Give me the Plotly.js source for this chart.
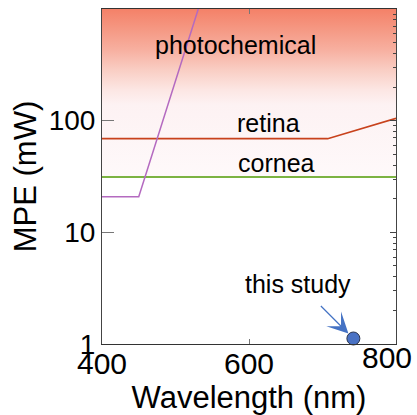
<!DOCTYPE html>
<html>
<head>
<meta charset="utf-8">
<script src="https://cdn.plot.ly/plotly-3.0.1.min.js"></script>
<style>html,body{margin:0;padding:0;background:#fff;}#chart{width:417px;height:415px;}</style>
</head>
<body>
<div id="chart"></div>
<script>
// Data
const photochemX = [400, 450, 531];
const photochemY = [20.8, 20.8, 1000];
const retinaX = [400, 707, 800];
const retinaY = [69, 69, 105];
const corneaX = [400, 800];
const corneaY = [31.3, 31.3];
const studyX = [742];
const studyY = [1.12];
const shadeX = [400, 800, 800, 400, 400];
const shadeY = [31.3, 31.3, 1000, 1000, 31.3];
const xTicks = [400, 600, 800];
const xTickText = ['400', '600', ''];
const xEndTick = [800];
const xEndTickText = ['800'];
const yTicks = [1, 10, 100];
const yTickText = ['1', '10', '100'];
const labelText = ['photochemical', 'retina', 'cornea', 'this study'];
const labelX = [582, 627, 637, 667];
const labelY = [480, 95, 42, 3.47];

const FONT = 'Arial, "Liberation Sans", sans-serif';

const traces = [
  {
    x: shadeX, y: shadeY, type: 'scatter', mode: 'lines',
    fill: 'toself', line: {width: 0, color: 'rgba(0,0,0,0)'},
    fillgradient: {
      type: 'vertical',
      colorscale: [[0, '#fef9fa'], [0.43, '#fdf2f3'], [0.52, '#fce6e3'], [0.64, '#f9cdc3'],
                   [0.76, '#f7af9f'], [0.88, '#f59883'], [1, '#f48168']]
    },
    hoverinfo: 'skip', showlegend: false
  },
  {x: corneaX, y: corneaY, type: 'scatter', mode: 'lines', line: {color: '#7cb342', width: 2}, showlegend: false},
  {x: retinaX, y: retinaY, type: 'scatter', mode: 'lines', line: {color: '#c8421c', width: 1.6}, showlegend: false},
  {x: photochemX, y: photochemY, type: 'scatter', mode: 'lines', line: {color: '#b46ac0', width: 1.5}, showlegend: false},
  {x: studyX, y: studyY, type: 'scatter', mode: 'markers', cliponaxis: false,
   marker: {size: 13, color: '#4a72c4', line: {color: '#2b3550', width: 1}}, showlegend: false},
  {x: [600], y: [10], xaxis: 'x2', yaxis: 'y2', type: 'scatter', mode: 'markers', marker: {opacity: 0}, hoverinfo: 'skip', showlegend: false}
];

const annotations = labelText.map((t, i) => ({
  x: labelX[i], y: Math.log10(labelY[i]), xref: 'x', yref: 'y',
  text: t, showarrow: false, font: {family: FONT, size: 25, color: '#000'},
  xanchor: 'center', yanchor: 'middle'
}));
annotations.push({
  x: studyX[0], y: Math.log10(studyY[0]), xref: 'x', yref: 'y', text: '',
  showarrow: true, ax: -34, ay: -34, arrowhead: 3, arrowsize: 2.9, arrowwidth: 1.2,
  arrowcolor: '#4472c4', standoff: 7
});

const layout = {
  width: 417, height: 415,
  margin: {l: 102, r: 21, t: 9, b: 71, pad: 0},
  paper_bgcolor: '#fff', plot_bgcolor: '#fff',
  font: {family: FONT, color: '#000'},
  showlegend: false,
  xaxis: {
    range: [400, 800], tickvals: xTicks, ticktext: xTickText,
    ticks: 'inside', ticklen: 5, tickcolor: '#777', tickwidth: 1,
    showline: true, linecolor: '#333', linewidth: 1, mirror: 'ticks',
    showgrid: false, zeroline: false, ticklabeloverflow: 'allow',
    ticklabelstandoff: -7,
    tickfont: {size: 30, family: FONT, color: '#000'},
    title: {text: 'Wavelength (nm)', font: {size: 31, family: FONT, color: '#000'}, standoff: 9}
  },
  xaxis2: {
    range: [400, 800], overlaying: 'x', side: 'bottom', anchor: 'y',
    tickvals: xEndTick, ticktext: xEndTickText, ticks: '', showline: false,
    showgrid: false, zeroline: false, ticklabeloverflow: 'allow',
    ticklabelstandoff: -7, ticklabelshift: -9,
    tickfont: {size: 30, family: FONT, color: '#000'}
  },
  yaxis: {
    type: 'log', range: [0, 3], tickvals: yTicks, ticktext: yTickText,
    ticks: 'inside', ticklen: 12, tickcolor: '#777', tickwidth: 1,
    showline: true, linecolor: '#444', linewidth: 1, mirror: true,
    showgrid: false, zeroline: false,
    tickfont: {size: 28, family: FONT, color: '#000'},
    title: {text: 'MPE (mW)', font: {size: 31, family: FONT, color: '#000'}, standoff: 2}
  },
  yaxis2: {
    type: 'log', range: [0, 3], overlaying: 'y', side: 'right', anchor: 'x',
    showticklabels: false, showgrid: false, zeroline: false, showline: false,
    ticks: 'inside', ticklen: 6, tickcolor: '#444', dtick: 1,
    minor: {ticks: 'inside', ticklen: 3, tickcolor: '#444', dtick: 'D1'}
  },
  annotations: annotations
};

Plotly.newPlot('chart', traces, layout, {displayModeBar: false, staticPlot: true});
</script>
</body>
</html>
